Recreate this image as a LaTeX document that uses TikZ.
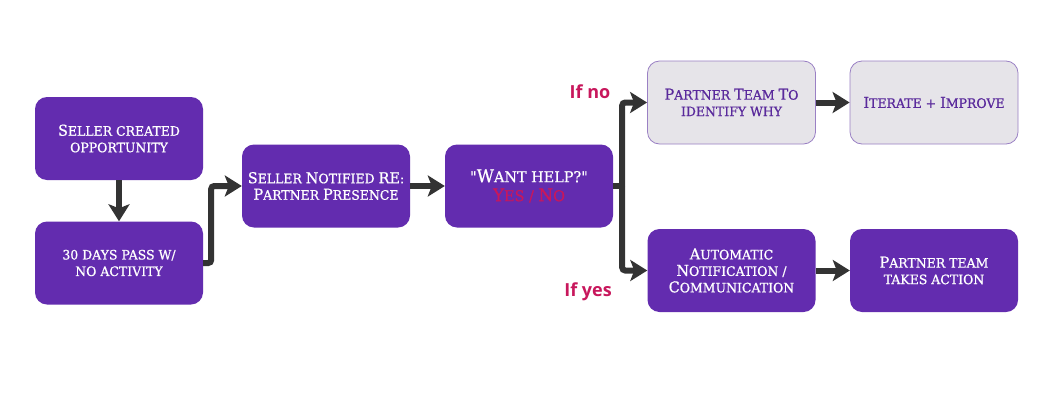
\documentclass[tikz,border=0pt]{standalone}
\usepackage{fontspec}
\usetikzlibrary{arrows.meta}
\newfontfamily\slab[FakeBold=0.8,FakeStretch=0.96]{DejaVu Serif}
\newfontfamily\lblfont{Open Sans}
\definecolor{purp}{HTML}{632CAF}
\definecolor{greyfill}{HTML}{E6E4E9}
\definecolor{greyline}{HTML}{9A80C4}
\definecolor{greytext}{HTML}{5A2A9C}
\definecolor{crim}{HTML}{C8175C}
\definecolor{arrowc}{HTML}{333333}
\newcommand\Cap[1]{{\fontsize{15}{16}\selectfont #1}}
\newcommand\BigCap[1]{{\fontsize{17.5}{19}\selectfont #1}}
\tikzset{
  box/.style={rounded corners=12pt, minimum width=168pt, minimum height=83pt,
    align=center, inner sep=2pt, font=\fontsize{13}{16.5}\slab},
  pbox/.style={box, fill=purp, text=white},
  gbox/.style={box, fill=greyfill, draw=greyline, line width=0.8pt, text=greytext},
  qbox/.style={pbox, font=\fontsize{15}{19}\slab},
  arr/.style={draw=arrowc, line width=6pt, rounded corners=3pt,
    -{Stealth[length=17pt,width=21pt,inset=4pt]}},
  lbl/.style={text=crim, font=\lblfont\bfseries\fontsize{18}{20}\selectfont}
}
\begin{document}
\begin{tikzpicture}[x=1pt,y=-1pt]
\useasboundingbox[fill=white] (0,0) rectangle (1060,402);
\node[pbox] (b1) at (119,138.5) {\Cap{S}ELLER CREATED\\OPPORTUNITY};
\node[pbox] (b2) at (119,263) {30 DAYS PASS W/\\NO ACTIVITY};
\node[pbox] (b3) at (326,186) {\Cap{S}ELLER \Cap{N}OTIFIED \Cap{RE}:\\\Cap{P}ARTNER \Cap{P}RESENCE};
\node[qbox] (b4) at (529,186) {"\BigCap{W}ANT HELP?"\\{\color{crim}\BigCap{Y}ES / \BigCap{N}O}};
\node[gbox] (b5) at (731.5,102.5) {\Cap{P}ARTNER \Cap{T}EAM \Cap{T}O\\IDENTIFY WHY};
\node[gbox] (b6) at (934,102.5) {\Cap{I}TERATE + \Cap{I}MPROVE};
\node[pbox] (b7) at (731.5,270.5) {\Cap{A}UTOMATIC\\\Cap{N}OTIFICATION /\\\Cap{C}OMMUNICATION};
\node[pbox] (b8) at (934,270.5) {\Cap{P}ARTNER TEAM\\TAKES ACTION};
\node[lbl] (lno) at (590,92) {If no};
\node[lbl] (lyes) at (588,292) {If yes};
\draw[arr] (b1) -- (b2);
\draw[arr] (b2.east) -- ++(8,0) |- (b3.west);
\draw[arr] (b3) -- (b4);
\draw[draw=arrowc, line width=6pt] (b4.east) -- ++(9,0) coordinate (j);
\draw[arr] (j) |- (b5.west);
\draw[arr] (j) |- (b7.west);
\draw[arr] (b5) -- (b6);
\draw[arr] (b7) -- (b8);
\end{tikzpicture}
\end{document}
